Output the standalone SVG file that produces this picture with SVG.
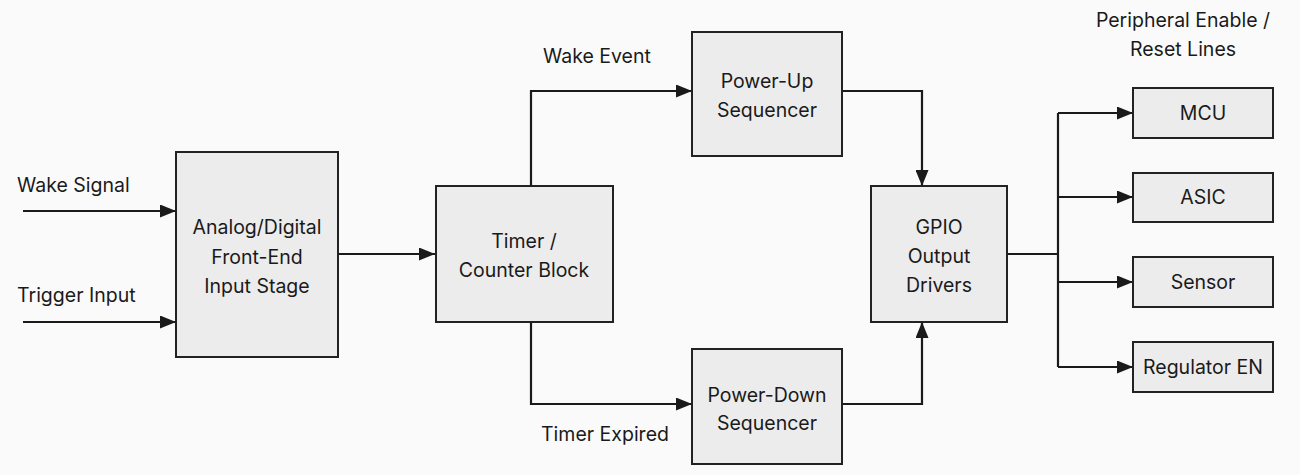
<svg xmlns="http://www.w3.org/2000/svg" width="1300" height="475" viewBox="0 0 1300 475">
<defs>
<marker id="ah" viewBox="0 0 16 13" refX="16" refY="6.5" markerWidth="16" markerHeight="13" markerUnits="userSpaceOnUse" orient="auto">
<path d="M0,0 L16,6.5 L0,13 Z" fill="#1a1a1a"/>
</marker>
</defs>
<style>
.box{fill:#ececec;stroke:#222;stroke-width:2}
.t{font-family:Inter,"Liberation Sans",Arial,sans-serif;font-size:19.5px;fill:#1a1a1a;text-anchor:middle}
.l{font-family:Inter,"Liberation Sans",Arial,sans-serif;font-size:19.5px;fill:#1a1a1a}
.c{fill:none;stroke:#1a1a1a;stroke-width:2.2}
.a{marker-end:url(#ah)}
</style>
<rect width="1300" height="475" fill="#fafafa"/>
<g id="connectors">
<path class="c a" d="M23,211 H176"/>
<path class="c a" d="M23,322 H176"/>
<path class="c a" d="M338,254 H435"/>
<path class="c a" d="M531,186 V91 H692"/>
<path class="c a" d="M531,322 V404 H692"/>
<path class="c a" d="M842,91 H922 V186"/>
<path class="c a" d="M842,404 H922 V322"/>
<path class="c" d="M1007,254 H1058 M1058,113 V367"/>
<path class="c a" d="M1058,113 H1133"/>
<path class="c a" d="M1058,197 H1133"/>
<path class="c a" d="M1058,282 H1133"/>
<path class="c a" d="M1058,367 H1133"/>
</g>
<g id="labels">
<text class="l" x="17" y="192">Wake Signal</text>
<text class="l" x="17" y="302">Trigger Input</text>
<text class="l" x="543" y="63">Wake Event</text>
<text class="l" x="541" y="441">Timer Expired</text>
<text class="t" x="1183" y="27">Peripheral Enable /</text>
<text class="t" x="1183" y="56">Reset Lines</text>
</g>
<g id="frontend">
<rect class="box" x="176" y="152" width="162" height="205"/>
<text class="t" x="257" y="234">Analog/Digital</text>
<text class="t" x="257" y="264">Front-End</text>
<text class="t" x="257" y="293">Input Stage</text>
</g>
<g id="timer">
<rect class="box" x="436" y="186" width="177" height="136"/>
<text class="t" x="524" y="248">Timer /</text>
<text class="t" x="524" y="277">Counter Block</text>
</g>
<g id="powerup">
<rect class="box" x="692" y="32" width="150" height="124"/>
<text class="t" x="767" y="88">Power-Up</text>
<text class="t" x="767" y="117">Sequencer</text>
</g>
<g id="powerdown">
<rect class="box" x="692" y="349" width="150" height="115"/>
<text class="t" x="767" y="402">Power-Down</text>
<text class="t" x="767" y="430">Sequencer</text>
</g>
<g id="gpio">
<rect class="box" x="871" y="186" width="136" height="136"/>
<text class="t" x="939" y="234">GPIO</text>
<text class="t" x="939" y="263">Output</text>
<text class="t" x="939" y="292">Drivers</text>
</g>
<g id="mcu">
<rect class="box" x="1133" y="88" width="140" height="50"/>
<text class="t" x="1203" y="120">MCU</text>
</g>
<g id="asic">
<rect class="box" x="1133" y="173" width="140" height="49"/>
<text class="t" x="1203" y="204">ASIC</text>
</g>
<g id="sensor">
<rect class="box" x="1133" y="257" width="140" height="50"/>
<text class="t" x="1203" y="289">Sensor</text>
</g>
<g id="regulator">
<rect class="box" x="1133" y="342" width="140" height="50"/>
<text class="t" x="1203" y="374">Regulator EN</text>
</g>
</svg>
